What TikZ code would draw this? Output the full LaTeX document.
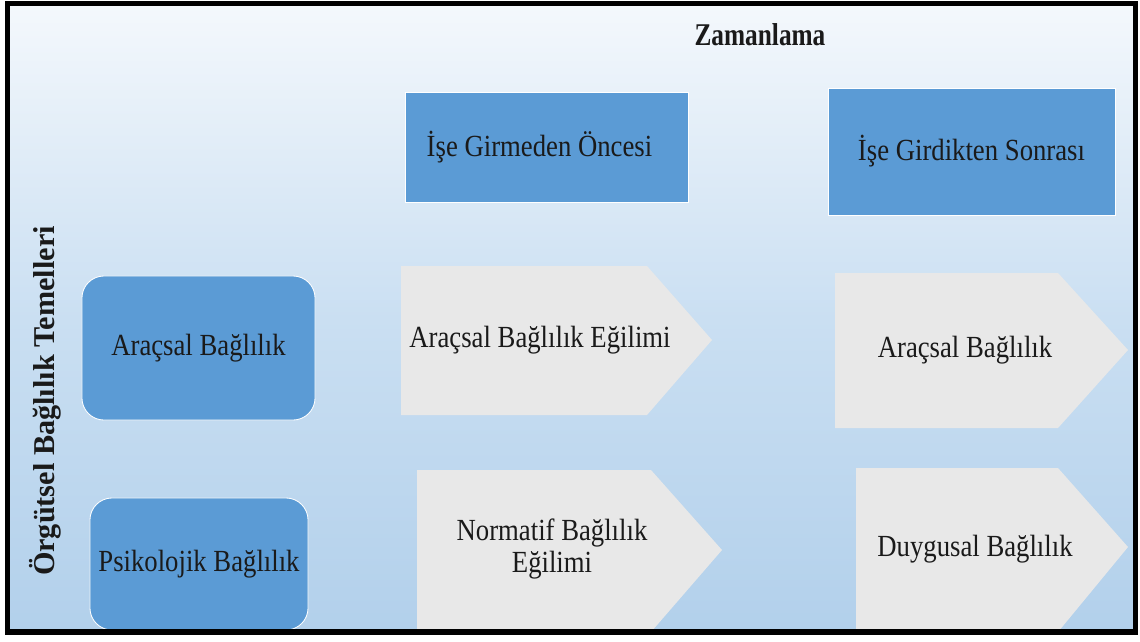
\documentclass[tikz,border=0pt]{standalone}
\usepackage{fontspec}
\setmainfont{Liberation Serif}
\definecolor{boxblue}{HTML}{5B9BD5}
\definecolor{arrgray}{HTML}{E8E8E8}
\definecolor{bgtop}{HTML}{F4F8FC}
\definecolor{bgmid}{HTML}{CADFF2}
\definecolor{bgbot}{HTML}{B2D0EB}
\definecolor{txtc}{HTML}{1A1A1A}
\newcommand{\tallt}[1]{\scalebox{1}[1.15]{#1}}
\begin{document}
\begin{tikzpicture}[x=0.025cm,y=-0.025cm,
  txt/.style={text=txtc,font=\fontsize{19}{21}\selectfont,inner sep=0pt,align=center},
  bluebox/.style={fill=boxblue,draw=white,line width=0.6pt,inner sep=0pt,text=txtc,font=\fontsize{19}{21}\selectfont},
  roundbox/.style={bluebox,rounded corners=0.55cm},
  arrowshape/.style={fill=arrgray}]
\useasboundingbox (0,0) rectangle (1140,641);
\fill[white] (0,0) rectangle (1140,641);
\begin{scope}
\clip (7,4) rectangle (1135,632);
\shade[top color=bgtop,bottom color=bgbot,middle color=bgmid] (7,4) rectangle (1135,632);
% title
\node[txt,font=\bfseries\fontsize{18}{20}\selectfont] (title) at (760,35) {\scalebox{1}[1.25]{Zamanlama}};
% column headers
\node[bluebox,minimum width=7.075cm,minimum height=2.75cm] (pre) at (546.5,147) {\hspace*{-0.35cm}\tallt{İşe Girmeden Öncesi}};
\node[bluebox,minimum width=7.175cm,minimum height=3.175cm] (post) at (971.5,151.5) {\tallt{İşe Girdikten Sonrası}};
% row headers
\node[roundbox,minimum width=5.825cm,minimum height=3.6cm] (arac) at (198.5,348) {\tallt{Araçsal Bağlılık}};
\node[roundbox,minimum width=5.45cm,minimum height=3.3cm] (psik) at (199,564) {\tallt{Psikolojik Bağlılık}};
% pentagon arrows
\fill[arrowshape] (401,266) -- (647,266) -- (712,340) -- (647,415) -- (401,415) -- cycle;
\node[txt] (a1) at (540,340) {\tallt{Araçsal Bağlılık Eğilimi}};
\fill[arrowshape] (417,470) -- (651,470) -- (722,550) -- (651,632) -- (417,632) -- cycle;
\node[txt] (a2) at (552,549) {\tallt{Normatif Bağlılık}\\[2pt]\tallt{Eğilimi}};
\fill[arrowshape] (835,273) -- (1058,273) -- (1128,350) -- (1058,428) -- (835,428) -- cycle;
\node[txt] (b1) at (965,350) {\tallt{Araçsal Bağlılık}};
\fill[arrowshape] (856,468) -- (1058,468) -- (1128,547) -- (1058,632) -- (856,632) -- cycle;
\node[txt] (b2) at (975,549) {\tallt{Duygusal Bağlılık}};
% vertical label
\node[txt,rotate=90,font=\bfseries\fontsize{21.5}{23}\selectfont] (lab) at (45,401) {Örgütsel Bağlılık Temelleri};
\end{scope}
\draw[line width=3.6pt] (7.5,3.5) rectangle (1135.5,632);
\end{tikzpicture}
\end{document}
